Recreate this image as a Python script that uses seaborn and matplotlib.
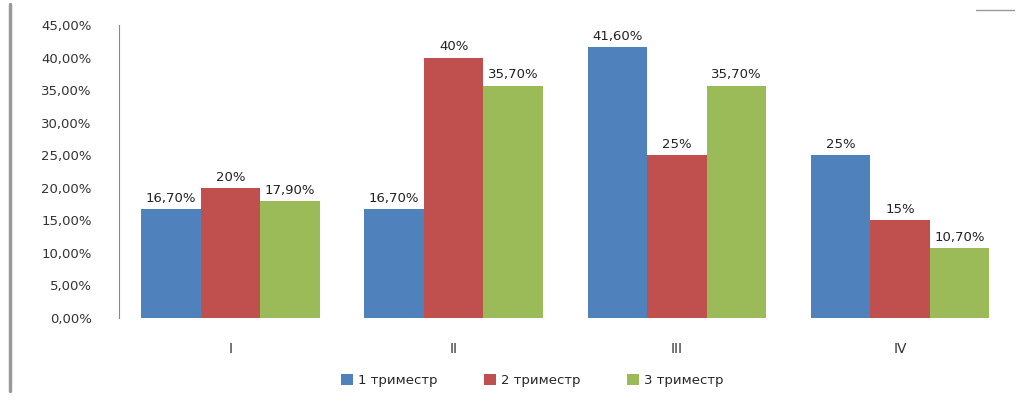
import pandas as pd
import matplotlib
matplotlib.use('Agg')
import matplotlib.pyplot as plt
import seaborn as sns

# данные с диаграммы
categories = ['I', 'II', 'III', 'IV']
tri1 = [16.7, 16.7, 41.6, 25.0]
tri2 = [20.0, 40.0, 25.0, 15.0]
tri3 = [17.9, 35.7, 35.7, 10.7]
series_names = ['1 триместр', '2 триместр', '3 триместр']
yticks = [0, 5, 10, 15, 20, 25, 30, 35, 40, 45]

df = pd.DataFrame({
    'cat': categories * 3,
    'val': tri1 + tri2 + tri3,
    'ser': [s for s in series_names for _ in categories],
})

def fmt(v):
    if abs(v - round(v)) < 1e-9:
        return '%d%%' % round(v)
    return ('%.2f%%' % v).replace('.', ',')

sns.set_style('white')
plt.rcParams['font.family'] = ['DejaVu Sans']

fig = plt.figure(figsize=(10.24, 4.03), dpi=100)
ax = fig.add_axes([0.116, 0.211, 0.872, 0.727])

colors = ['#4F81BD', '#C0504D', '#9BBB59']
sns.barplot(data=df, x='cat', y='val', hue='ser', palette=colors,
            width=0.8, saturation=1, linewidth=0, ax=ax, legend=True)

for cont in ax.containers:
    ax.bar_label(cont, labels=[fmt(b.get_height()) for b in cont],
                 padding=3, fontsize=9.5, color='#222222')

ax.set_ylim(0, 45)
ax.set_yticks(yticks)
ax.set_yticklabels([('%.2f%%' % t).replace('.', ',') for t in yticks],
                   fontsize=9.5, color='#333333')
ax.tick_params(axis='x', labelsize=10, colors='#333333', pad=14)
ax.tick_params(axis='y', pad=16)
ax.set_xlabel('')
ax.set_ylabel('')

for s in ['top', 'right', 'bottom']:
    ax.spines[s].set_visible(False)
ax.spines['left'].set_color('#888888')

ax.legend(loc='center', bbox_to_anchor=(0.52, 0.055), bbox_transform=fig.transFigure,
          ncol=3, frameon=False, fontsize=9.5, handlelength=0.9, handleheight=0.9,
          columnspacing=3.5, handletextpad=0.4)

# рамочные линии как на исходном изображении
fig.add_artist(plt.Line2D([0.01, 0.01], [0.03, 0.99], color='#999999', lw=2.5))
fig.add_artist(plt.Line2D([0.953, 0.99], [0.975, 0.975], color='#999999', lw=1))

fig.savefig('out.png', dpi=100)
